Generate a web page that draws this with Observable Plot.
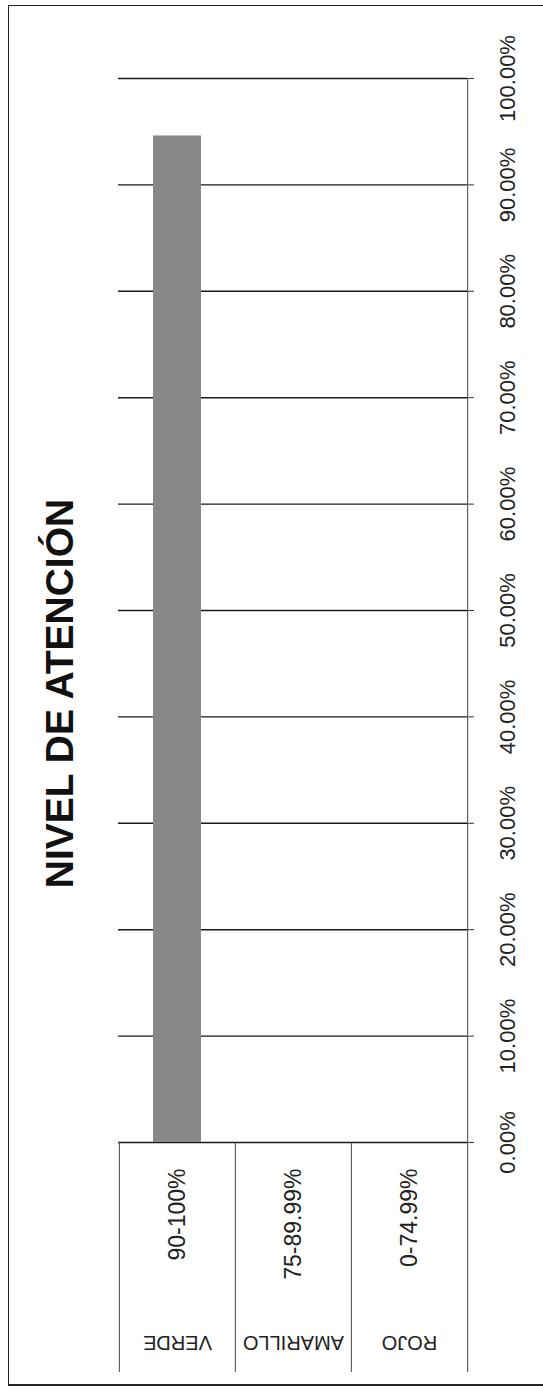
<!DOCTYPE html>
<html><head><meta charset="utf-8">
<script src="https://cdn.jsdelivr.net/npm/d3@7"></script>
<script src="https://cdn.jsdelivr.net/npm/@observablehq/plot@0.6"></script>
<style>
html,body{margin:0;padding:0;background:#fff;}
#wrap{position:relative;width:543px;height:1391px;overflow:hidden;}
#border{position:absolute;left:8px;top:5px;width:545px;height:1378px;border-left:1.5px solid #222;border-top:1.5px solid #222;border-bottom:2px solid #222;pointer-events:none;}
svg{display:block;}
</style></head><body>
<div id="wrap"><div id="chart"></div><div id="border"></div></div>
<script>
// ---- data ----
const title = "NIVEL DE ATENCIÓN";
const categories = ["VERDE", "AMARILLO", "ROJO"];
const ranges = ["90-100%", "75-89.99%", "0-74.99%"];
const values = [0.946, null, null];
const yTicks = [0, 0.1, 0.2, 0.3, 0.4, 0.5, 0.6, 0.7, 0.8, 0.9, 1];

// ---- layout ----
const W = 543, H = 1391, mL = 118, mR = 76, mT = 78, mB = 249;
const bw = (W - mL - mR) / categories.length;
const TABLE_DEPTH = 230; // px below the 0 baseline
const TB = -TABLE_DEPTH / (H - mT - mB); // same depth in y units
const font = "'Liberation Sans', Arial, sans-serif";
const ink = "#222";

const rows = categories.map((c, i) => ({category: c, range: ranges[i], value: values[i]}));
const fmt = d3.format(".2%");

const chart = Plot.plot({
  width: W, height: H,
  marginLeft: mL, marginRight: mR, marginTop: mT, marginBottom: mB,
  style: {fontFamily: font, background: "transparent"},
  x: {type: "band", domain: categories, padding: 0, axis: null},
  y: {domain: [0, 1], axis: null},
  marks: [
    Plot.ruleY(yTicks, {stroke: "#1a1a1a", strokeWidth: 1.4}),
    Plot.axisY({anchor: "right", ticks: yTicks, tickSize: 6, tickFormat: () => "", label: null, stroke: "#333"}),
    Plot.barY(rows.filter(d => d.value != null), {x: "category", y: "value", fill: "#888888", insetLeft: 34, insetRight: 34}),
    Plot.ruleX(rows, {x: "category", dx: -bw / 2, y1: 0, y2: TB, stroke: "#444", strokeWidth: 1}),
    Plot.ruleX([categories[categories.length - 1]], {x: d => d, dx: bw / 2, y1: 1, y2: TB, stroke: "#444", strokeWidth: 1}),
    Plot.text(yTicks, {y: d => d, frameAnchor: "right", textAnchor: "middle", dx: 40, rotate: -90, text: d => fmt(d), fontSize: 22, fill: ink}),
    Plot.text(rows, {x: "category", y: 0, dy: 26, rotate: -90, textAnchor: "end", text: "range", fontSize: 23, fill: ink}),
    Plot.text(rows, {x: "category", y: 0, dy: 200, rotate: 180, textAnchor: "middle", text: "category", fontSize: 20, fill: ink}),
    Plot.text([title], {frameAnchor: "left", textAnchor: "middle", dx: -58, dy: 83, rotate: -90, text: d => d, fontSize: 39, fontWeight: "bold", fill: "#111"})
  ]
});
document.getElementById("chart").appendChild(chart);
</script>
</body></html>
